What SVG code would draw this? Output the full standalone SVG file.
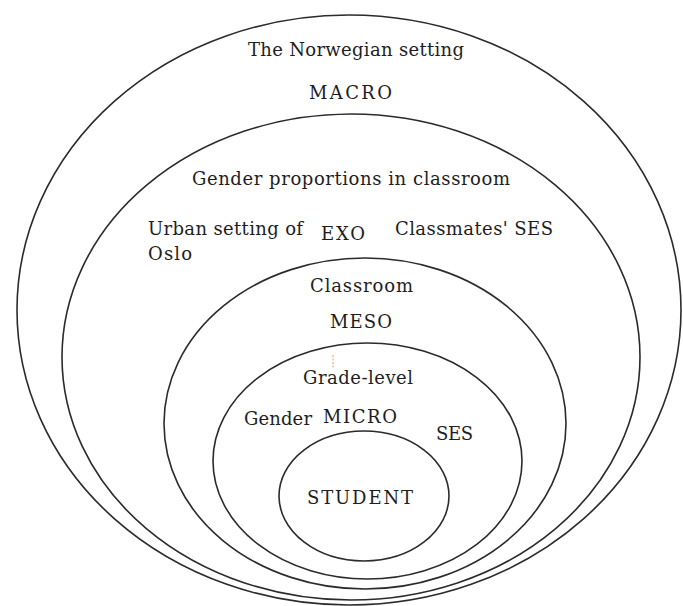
<svg xmlns="http://www.w3.org/2000/svg" width="683" height="606" viewBox="0 0 683 606">
<style>
.ring{fill:none;stroke:#2b2b2b;stroke-width:1.6}
.t{font-family:"DejaVu Serif","Liberation Serif",serif;font-size:18px;fill:#1e1e1e}
</style>
<rect width="683" height="606" fill="#ffffff"/>
<g id="macro">
<ellipse class="ring" cx="349" cy="310" rx="332" ry="295"/>
<text class="t" x="248" y="56" textLength="216">The Norwegian setting</text>
<text class="t" x="309" y="99" textLength="83">MACRO</text>
</g>
<g id="exo">
<ellipse class="ring" cx="351" cy="357" rx="289" ry="243"/>
<text class="t" x="192" y="185" textLength="318">Gender proportions in classroom</text>
<text class="t" x="148" y="235" textLength="155">Urban setting of</text>
<text class="t" x="148" y="260" textLength="44">Oslo</text>
<text class="t" x="321" y="240" textLength="44">EXO</text>
<text class="t" x="395" y="235" textLength="158">Classmates' SES</text>
</g>
<g id="meso">
<ellipse class="ring" cx="365" cy="423.5" rx="201" ry="165.5"/>
<text class="t" x="310" y="292" textLength="103">Classroom</text>
<text class="t" x="330" y="328" textLength="62">MESO</text>
</g>
<g id="micro">
<ellipse class="ring" cx="367.5" cy="461" rx="154.5" ry="118"/>
<line x1="333" y1="355" x2="333" y2="368" stroke="#e08a30" stroke-width="0.8" stroke-dasharray="2 1.5"/>
<text class="t" x="303" y="384" textLength="110">Grade-level</text>
<text class="t" x="244" y="425" textLength="68">Gender</text>
<text class="t" x="323" y="423" textLength="74">MICRO</text>
<text class="t" x="436" y="440" textLength="37">SES</text>
</g>
<g id="student">
<ellipse class="ring" cx="364" cy="496" rx="85" ry="65"/>
<text class="t" x="307" y="504" textLength="106">STUDENT</text>
</g>
<g id="connectors"></g>
</svg>
